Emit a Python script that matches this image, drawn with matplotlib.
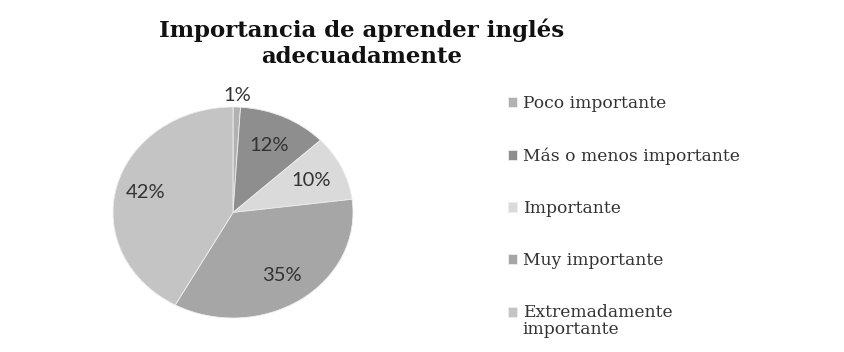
import numpy as np
import matplotlib
matplotlib.use("Agg")
import matplotlib.pyplot as plt

# datos del gráfico
categorias = ["Poco importante", "Más o menos importante", "Importante",
              "Muy importante", "Extremadamente\nimportante"]
porcentajes = [1, 12, 10, 35, 42]
colores = ["#b2b2b2", "#8e8e8e", "#dadada", "#a6a6a6", "#c4c4c4"]
titulo = "Importancia de aprender inglés\nadecuadamente"

# distancia radial de cada etiqueta (fracción del radio)
dist_etiquetas = [1.11, 0.70, 0.72, 0.72, 0.75]

fig = plt.figure(figsize=(8.45, 3.52), dpi=100)
fig.patch.set_facecolor("white")

ax = fig.add_axes([113 / 845, 34 / 352, 240 / 845, 211 / 352])
wedges, _ = ax.pie(porcentajes, colors=colores, startangle=90, counterclock=False,
                   wedgeprops=dict(edgecolor="#eeeeee", linewidth=0.6))
ax.set_aspect("auto")
ax.set_xlim(-1, 1)
ax.set_ylim(-1, 1)

for w, p, d in zip(wedges, porcentajes, dist_etiquetas):
    ang = np.deg2rad((w.theta1 + w.theta2) / 2)
    ax.text(d * np.cos(ang), d * np.sin(ang), f"{p}%", ha="center", va="center",
            fontsize=14.5, color="#333333", family="Lato")

fig.text(362 / 845, 1 - 43 / 352, titulo, ha="center", va="center",
         fontsize=16.5, fontweight="bold", family="DejaVu Serif",
         linespacing=1.25, color="#111111")

leg = fig.legend(wedges, categorias, loc="upper left",
                 bbox_to_anchor=(493 / 845, 1 - 80 / 352),
                 frameon=False, handlelength=0.5, handleheight=0.5,
                 handletextpad=0.35, labelspacing=2.05,
                 prop=dict(family="DejaVu Serif", size=12.3))
for t in leg.get_texts():
    t.set_color("#333333")
    t.set_linespacing(1.0)

# el cuadrado de la última entrada va junto a la primera línea
h = leg.legend_handles[-1]
h.set_y(h.get_y() + 6.5)

fig.savefig("out.png", dpi=100, facecolor="white")
